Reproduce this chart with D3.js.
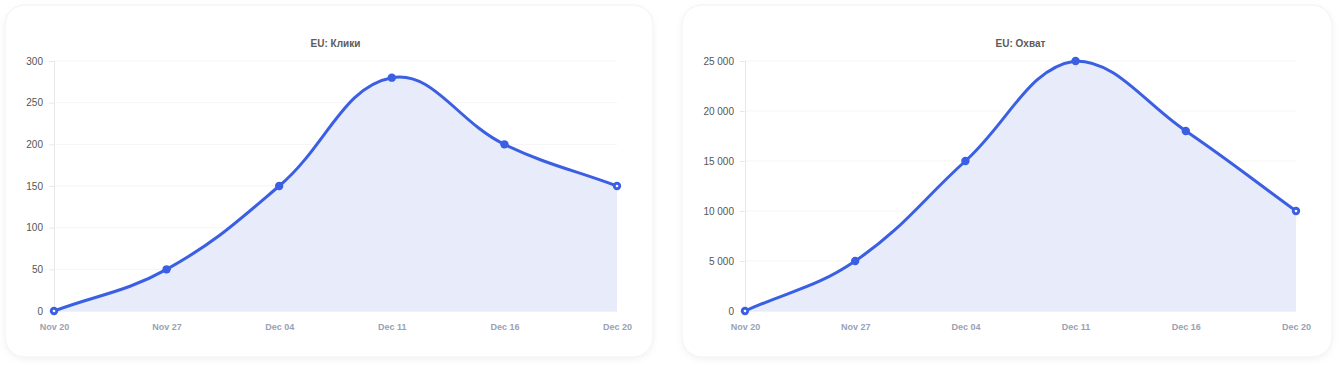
<!DOCTYPE html>
<html><head><meta charset="utf-8">
<script src="https://cdn.jsdelivr.net/npm/d3@7"></script>
<style>
html,body{margin:0;padding:0;background:#fff;}
svg{display:block;font-family:"Liberation Sans",Arial,sans-serif;}
</style></head><body>
<svg id="c" width="1340" height="367"></svg>
<script>
const categories = ["Nov 20","Nov 27","Dec 04","Dec 11","Dec 16","Dec 20"];
const clicksValues = [0, 50, 150, 280, 200, 150];
const reachValues = [0, 5000, 15000, 25000, 18000, 10000];
const clicksTicks = [0, 50, 100, 150, 200, 250, 300];
const reachTicks = [0, 5000, 10000, 15000, 20000, 25000];
const titles = ["EU: Клики", "EU: Охват"];

const FONT = "\"Liberation Sans\",Arial,sans-serif";
const svg = d3.select("#c");
const defs = svg.append("defs");
const f = defs.append("filter").attr("id","sh").attr("x","-5%").attr("y","-5%").attr("width","110%").attr("height","115%");
f.append("feDropShadow").attr("dx",0).attr("dy",2).attr("stdDeviation",3).attr("flood-color","#000").attr("flood-opacity",0.05);

const fmt = v => d3.format(",")(v).replace(/,/g, "\u00a0");

function splinePath(pts, top, bottom, left, right) {
  const t = 0.4;
  const cps = pts.map((p, i) => {
    const prev = pts[i-1] || p, next = pts[i+1] || p;
    const d01 = Math.hypot(p[0]-prev[0], p[1]-prev[1]);
    const d12 = Math.hypot(next[0]-p[0], next[1]-p[1]);
    let s01 = d01/(d01+d12), s12 = d12/(d01+d12);
    if (isNaN(s01)) s01 = 0; if (isNaN(s12)) s12 = 0;
    const fa = t*s01, fb = t*s12;
    const cap = (x, y) => [Math.max(left, Math.min(right, x)), Math.max(top, Math.min(bottom, y))];
    return {
      prev: cap(p[0] - fa*(next[0]-prev[0]), p[1] - fa*(next[1]-prev[1])),
      next: cap(p[0] + fb*(next[0]-prev[0]), p[1] + fb*(next[1]-prev[1]))
    };
  });
  let d = `M${pts[0][0]},${pts[0][1]}`;
  for (let i = 1; i < pts.length; i++) {
    const a = cps[i-1].next, b = cps[i].prev;
    d += `C${a[0]},${a[1]},${b[0]},${b[1]},${pts[i][0]},${pts[i][1]}`;
  }
  return d;
}

function drawCard(cfg) {
  const g = svg.append("g");
  g.append("rect").attr("x", cfg.cx).attr("y", 5).attr("width", cfg.cw).attr("height", 352)
    .attr("rx", 20).attr("fill", "#fff").attr("stroke", "#f1f1f3").attr("stroke-width", 1)
    .attr("filter", "url(#sh)");

  const x = d3.scalePoint().domain(categories).range([cfg.x0, cfg.x1]);
  const y = d3.scaleLinear().domain([0, cfg.max]).range([311, 61]);

  g.append("text").attr("x", (cfg.x0 + cfg.x1)/2).attr("y", 47).attr("text-anchor", "middle")
    .attr("font-size", 10).attr("font-weight", 700).attr("fill", "#5b5b5b").text(cfg.title);

  g.append("g").selectAll("line").data(cfg.ticks).join("line")
    .attr("x1", cfg.x0).attr("x2", cfg.x1).attr("y1", d => y(d)).attr("y2", d => y(d))
    .attr("stroke", d => d === 0 ? "#e3e5ea" : "#f5f5f7").attr("stroke-width", 1);

  const yAxis = g.append("g").attr("transform", `translate(${cfg.x0},0)`)
    .call(d3.axisLeft(y).tickValues(cfg.ticks).tickFormat(fmt).tickSize(5).tickPadding(6));
  yAxis.select(".domain").attr("stroke", "#e8e8ea").attr("d", `M0.5,${y(cfg.max)}V311`);
  yAxis.selectAll(".tick line").attr("stroke", "#e8e8ea");
  yAxis.selectAll(".tick text").attr("fill", "#555").attr("font-size", 10).attr("font-family", FONT);

  const xAxis = g.append("g").attr("transform", `translate(0,311)`)
    .call(d3.axisBottom(x).tickSize(0).tickPadding(13));
  xAxis.select(".domain").remove();
  xAxis.selectAll(".tick text").attr("fill", "#9aa1b4").attr("font-size", 9).attr("font-weight", 700)
    .attr("font-family", FONT);

  const pts = cfg.values.map((v, i) => [x(categories[i]), y(v)]);
  const line = splinePath(pts, y(cfg.max), 311, cfg.x0, cfg.x1);
  g.append("path").attr("d", line + `L${cfg.x1},311L${cfg.x0},311Z`).attr("fill", "#e8ebfa");
  g.append("path").attr("d", line).attr("fill", "none").attr("stroke", "#3a5fe3").attr("stroke-width", 3)
    .attr("stroke-linejoin", "round");
  g.append("g").selectAll("circle").data(pts).join("circle")
    .attr("cx", d => d[0]).attr("cy", d => d[1]).attr("r", 4.2).attr("fill", "#3a5fe3");
  g.append("g").selectAll("circle").data([pts[0], pts[pts.length-1]]).join("circle")
    .attr("cx", d => d[0]).attr("cy", d => d[1]).attr("r", 1.3).attr("fill", "#fff");
}

drawCard({cx: 5, cw: 648, x0: 54, x1: 617, max: 300, ticks: clicksTicks, values: clicksValues, title: titles[0]});
drawCard({cx: 682, cw: 650, x0: 745, x1: 1296, max: 25000, ticks: reachTicks, values: reachValues, title: titles[1]});
</script>
</body></html>
